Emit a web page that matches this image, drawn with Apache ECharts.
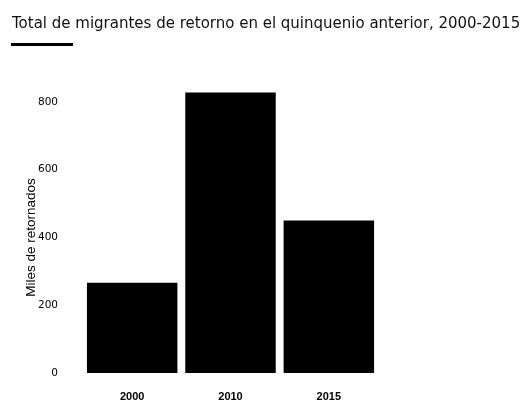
<!DOCTYPE html>
<html>
<head>
<meta charset="utf-8">
<script src="https://cdn.jsdelivr.net/npm/echarts@6/dist/echarts.min.js"></script>
<style>
html,body{margin:0;padding:0;background:#fff;}
#chart{width:529px;height:405px;}
</style>
</head>
<body>
<div id="chart"></div>
<script>
const titleText = 'Total de migrantes de retorno en el quinquenio anterior, 2000-2015';
const yAxisTitle = 'Miles de retornados';
const categories = ['2000', '2010', '2015'];
const returnees = [266, 828, 450];

const chart = echarts.init(document.getElementById('chart'), null, {renderer: 'canvas'});
chart.setOption({
  backgroundColor: '#ffffff',
  animation: false,
  title: {
    text: titleText,
    left: 7,
    top: 12,
    textStyle: {fontFamily: 'DejaVu Sans', fontSize: 15, fontWeight: 'normal', color: '#111'}
  },
  graphic: [{
    type: 'rect',
    shape: {x: 11, y: 43, width: 62, height: 3},
    style: {fill: '#000'}
  }],
  grid: {left: 83, right: 151, top: 68, bottom: 32, containLabel: false},
  xAxis: {
    type: 'category',
    data: categories,
    axisLine: {show: false},
    axisTick: {show: false},
    axisLabel: {margin: 18, fontFamily: 'Liberation Sans', fontSize: 11, fontWeight: 'bold', color: '#000'}
  },
  yAxis: {
    type: 'value',
    min: 0,
    max: 900,
    interval: 200,
    name: yAxisTitle,
    nameLocation: 'middle',
    nameGap: 45,
    nameMoveOverlap: false,
    nameTextStyle: {fontFamily: 'Liberation Sans', fontSize: 13.5, color: '#000', padding: [0, 34, 0, 0]},
    axisLine: {show: false},
    axisTick: {show: false},
    splitLine: {show: false},
    axisLabel: {showMaxLabel: false, margin: 25, fontFamily: 'DejaVu Sans', fontSize: 10.5, color: '#000'}
  },
  series: [{
    type: 'bar',
    data: returnees,
    barCategoryGap: '8%',
    itemStyle: {color: '#000'}
  }]
});
</script>
</body>
</html>
